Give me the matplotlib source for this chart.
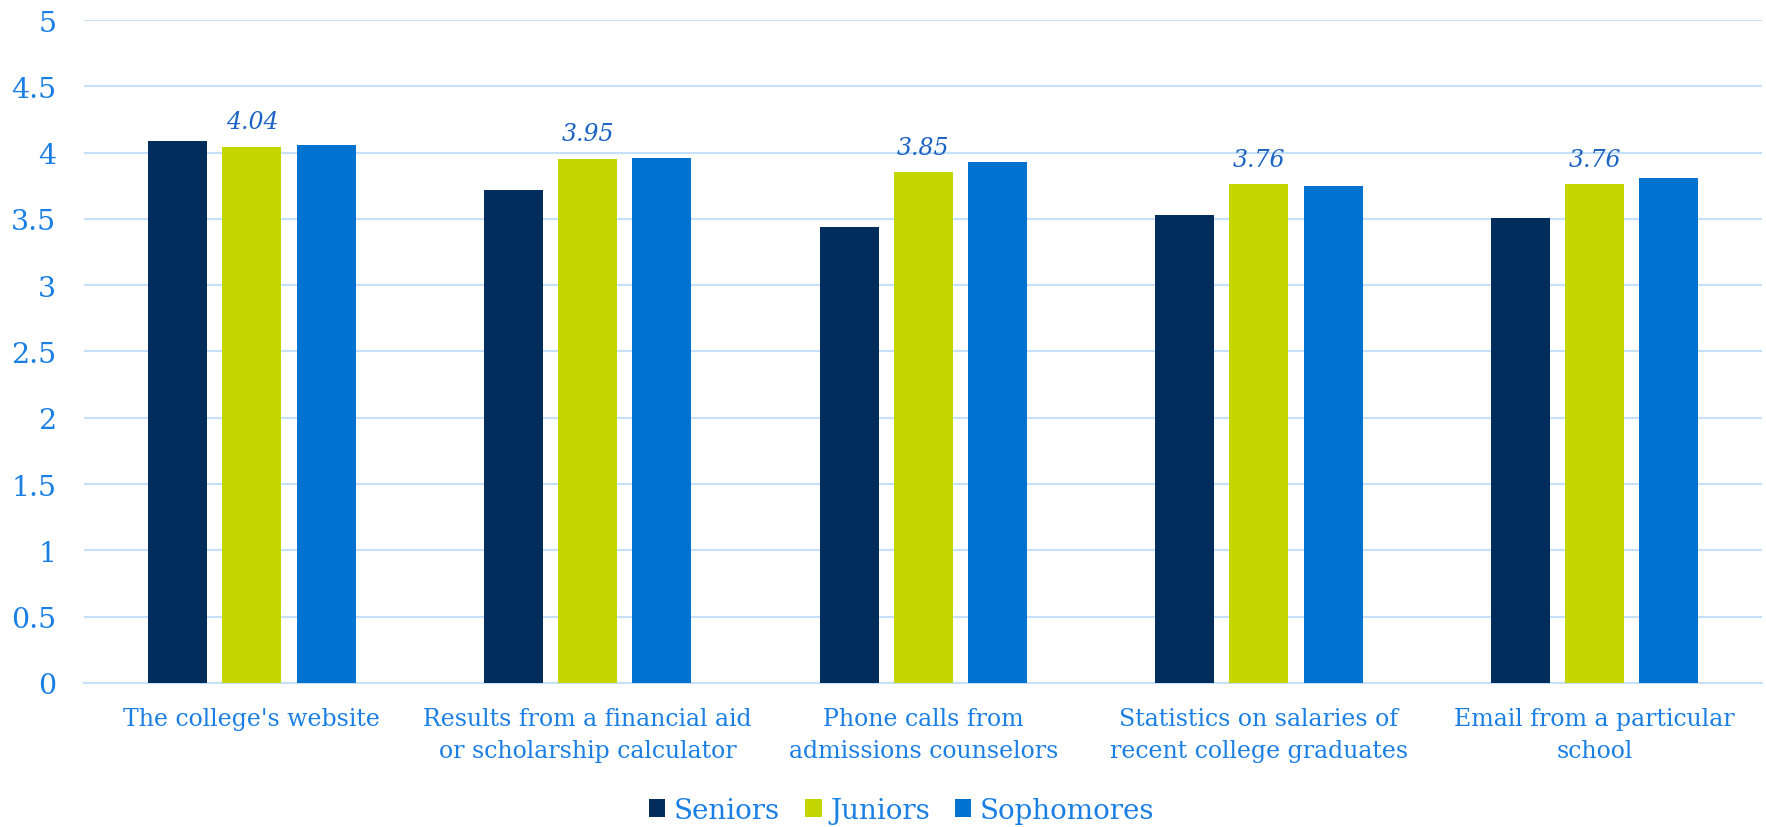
import numpy as np
import matplotlib.pyplot as plt

# survey data: average rating per information source
categories = ["The college's website",
              "Results from a financial aid\nor scholarship calculator",
              "Phone calls from\nadmissions counselors",
              "Statistics on salaries of\nrecent college graduates",
              "Email from a particular\nschool"]
seniors = [4.09, 3.72, 3.44, 3.53, 3.51]
juniors = [4.04, 3.95, 3.85, 3.76, 3.76]
sophomores = [4.06, 3.96, 3.93, 3.75, 3.81]
series_names = ["Seniors", "Juniors", "Sophomores"]
yticks = [0, 0.5, 1, 1.5, 2, 2.5, 3, 3.5, 4, 4.5, 5]

colors = ["#002d5c", "#c4d600", "#0072cf"]
text_blue = "#1a7fe4"
label_blue = "#1a62c4"
grid_blue = "#c6e0fa"

plt.rcParams['font.family'] = ['DejaVu Serif']

fig = plt.figure(figsize=(17.66, 8.28), dpi=100)
ax = fig.add_axes([0.0476, 0.174, 0.9504, 0.8006])

x = np.arange(len(categories))
w = 0.176
step = 0.221
for i, (vals, name) in enumerate(zip([seniors, juniors, sophomores], series_names)):
    bars = ax.bar(x + (i - 1) * step, vals, width=w, color=colors[i], label=name, zorder=3)
    if name == "Juniors":
        for b, v in zip(bars, vals):
            ax.annotate(f"{v:.2f}", (b.get_x() + b.get_width() / 2, v),
                        xytext=(0, 10), textcoords="offset points",
                        ha="center", va="bottom", fontsize=17, style="italic",
                        color=label_blue)

ax.set_ylim(0, 5)
ax.set_xlim(-0.5, len(categories) - 0.5)
ax.set_yticks(yticks)
ax.set_yticklabels([f"{t:g}" for t in yticks])
ax.set_xticks(x)
ax.set_xticklabels(categories, linespacing=1.5)
ax.tick_params(axis="y", length=0, pad=20, labelsize=20.5, labelcolor=text_blue)
ax.tick_params(axis="x", length=0, pad=17, labelsize=17, labelcolor=text_blue)
ax.grid(axis="y", color=grid_blue, linewidth=1.5, zorder=0)
for s in ["top", "right", "left"]:
    ax.spines[s].set_visible(False)
ax.spines["bottom"].set_color(grid_blue)
ax.spines["bottom"].set_linewidth(1.5)

leg = ax.legend(loc="center", bbox_to_anchor=(0.487, -0.192), ncol=3, frameon=False,
                fontsize=20, handlelength=0.6, handleheight=0.6, handletextpad=0.3,
                columnspacing=0.9)
for t in leg.get_texts():
    t.set_color(text_blue)

fig.savefig("out.png", dpi=100)
